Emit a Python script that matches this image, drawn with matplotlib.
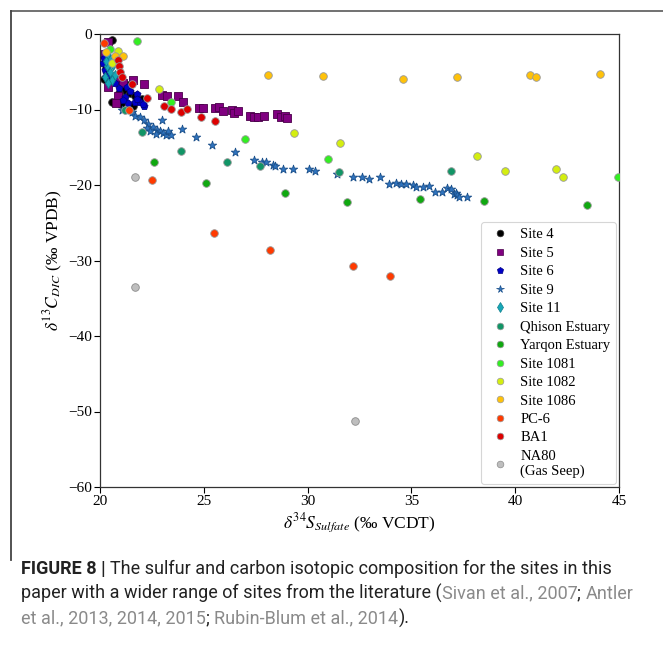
import matplotlib
matplotlib.use("Agg")
import matplotlib.pyplot as plt
from matplotlib import font_manager
from matplotlib.lines import Line2D
from matplotlib.offsetbox import TextArea, HPacker, AnnotationBbox

# ---------------- data ----------------
site4_x = [20.56, 20.3, 20.2, 21.35, 21.17, 21.45, 21.0, 20.6, 21.7, 20.9, 22.0, 21.6]
site4_y = [-0.8, -4.5, -6.0, -6.75, -7.4, -7.8, -9.3, -9.0, -8.2, -7.8, -8.6, -9.6]

site5_x = [20.4, 20.24, 21.6, 22.13, 20.85, 20.4, 20.76, 20.88, 21.12, 22.97, 23.24, 23.74, 24.0,
           24.78, 24.97, 25.54, 25.74, 25.94, 26.34, 26.45, 26.66, 27.23, 27.43, 27.63, 27.9,
           28.51, 28.7, 28.91, 28.99]
site5_y = [-1.0, -2.6, -6.1, -6.6, -8.2, -7.0, -9.2, -6.1, -6.5, -8.08, -8.17, -8.2, -8.96,
           -9.85, -9.76, -9.85, -9.62, -10.15, -10.07, -10.42, -10.2, -10.86, -11.0, -10.95, -10.8,
           -10.64, -10.95, -10.82, -11.17]

site6_x = [20.16, 20.24, 21.28, 21.45, 21.76, 21.69, 21.93, 22.13, 21.36, 21.2, 20.72, 20.4,
           20.2, 20.3, 20.9, 21.1, 21.8, 22.05, 20.6]
site6_y = [-3.9, -4.8, -7.0, -7.6, -7.9, -9.0, -9.0, -9.6, -9.2, -8.3, -6.5, -5.2,
           -3.2, -5.6, -7.2, -8.8, -8.6, -9.3, -5.9]

site9_x = [21.04, 21.53, 21.69, 21.93, 22.13, 22.33, 22.25, 22.57, 22.41, 22.73, 22.89, 22.68,
           23.05, 23.16, 23.29, 23.42, 22.97, 23.93, 24.62, 25.41, 26.5, 27.43, 27.79, 27.99,
           28.32, 28.43, 28.8, 29.28, 30.08, 30.36, 31.4, 32.17, 32.6, 32.96, 33.49, 33.92,
           34.24, 34.48, 34.72, 35.09, 35.22, 35.54, 35.86, 36.14, 36.46, 36.73, 36.89, 37.05,
           37.15, 37.21, 37.3, 37.66]
site9_y = [-10.07, -10.3, -10.86, -11.0, -11.4, -11.9, -12.5, -12.3, -12.9, -12.7, -12.9, -13.2,
           -13.15, -13.4, -12.9, -13.4, -11.4, -12.6, -13.6, -14.66, -15.6, -16.7, -17.0, -16.9,
           -17.35, -17.5, -17.85, -17.84, -17.92, -18.1, -18.54, -18.9, -18.98, -19.2, -18.9, -19.9,
           -19.78, -19.9, -19.87, -20.04, -20.3, -20.3, -20.13, -20.97, -20.97, -20.44, -20.57, -21.23,
           -21.0, -21.3, -21.6, -21.55]

site11_x = [20.4, 20.48, 20.32, 20.48, 20.24, 20.56, 20.4, 20.64, 20.3, 20.7]
site11_y = [-2.8, -3.4, -4.3, -5.0, -5.65, -6.1, -6.5, -4.1, -3.6, -5.4]

qhison_x = [22.0, 23.9, 26.1, 27.7, 31.51, 36.89, 21.2]
qhison_y = [-13.0, -15.5, -17.0, -17.5, -18.28, -18.1, -10.0]

yarqon_x = [22.61, 25.1, 28.9, 31.9, 35.4, 38.48, 43.47]
yarqon_y = [-17.0, -19.8, -21.1, -22.3, -21.8, -22.1, -22.6]

s1081_x = [21.8, 23.42, 27.0, 31.0, 44.94, 20.5]
s1081_y = [-0.93, -8.96, -13.95, -16.5, -19.0, -2.0]

s1082_x = [22.84, 20.88, 20.56, 29.33, 31.56, 38.15, 39.49, 41.97, 42.29]
s1082_y = [-7.24, -2.2, -3.8, -13.07, -14.48, -16.2, -18.1, -17.9, -19.0]

s1086_x = [28.07, 30.73, 34.58, 37.21, 40.71, 40.98, 44.08, 20.29, 20.72, 21.1]
s1086_y = [-5.43, -5.56, -5.9, -5.65, -5.47, -5.74, -5.3, -2.34, -2.87, -2.9]

pc6_x = [22.52, 25.5, 28.2, 32.19, 33.98, 20.2, 21.4]
pc6_y = [-19.4, -26.4, -28.6, -30.7, -32.05, -1.2, -10.0]

ba1_x = [23.1, 23.42, 23.9, 24.17, 24.85, 25.52, 20.88, 20.92, 20.96, 21.04, 21.56, 22.25]
ba1_y = [-9.5, -9.93, -10.3, -9.98, -11.0, -11.5, -3.44, -4.2, -5.0, -5.7, -6.6, -8.5]

na80_x = [21.7, 21.7, 32.3]
na80_y = [-19.0, -33.47, -51.3]

labels = ["Site 4", "Site 5", "Site 6", "Site 9", "Site 11", "Qhison Estuary",
          "Yarqon Estuary", "Site 1081", "Site 1082", "Site 1086", "PC-6", "BA1",
          "NA80\n(Gas Seep)"]

# ---------------- style ----------------
plt.rcParams["font.family"] = ["Liberation Serif", "DejaVu Serif"]
plt.rcParams["mathtext.fontset"] = "stix"

W, H = 663, 647
fig = plt.figure(figsize=(W / 100, H / 100), dpi=100)
ax = fig.add_axes([100 / W, 1 - 487 / H, 519 / W, 453 / H])

series = [
    (site4_x, site4_y, "o", "#000000", "#333333", 30),
    (site5_x, site5_y, "s", "#800080", "#4a004a", 40),
    (site6_x, site6_y, "p", "#0000C8", "#000080", 28),
    (site9_x, site9_y, "*", "#2F74C0", "#1a4f8a", 40),
    (site11_x, site11_y, "d", "#17A8B8", "#0e7f8c", 26),
    (qhison_x, qhison_y, "o", "#119566", "#999999", 30),
    (yarqon_x, yarqon_y, "o", "#10A810", "#999999", 30),
    (s1081_x, s1081_y, "o", "#33EE22", "#999999", 30),
    (s1082_x, s1082_y, "o", "#D4EE10", "#999999", 30),
    (s1086_x, s1086_y, "o", "#FFC20A", "#999999", 30),
    (pc6_x, pc6_y, "o", "#FF3A00", "#999999", 30),
    (ba1_x, ba1_y, "o", "#DD0000", "#999999", 30),
    (na80_x, na80_y, "o", "#BEBEBE", "#8c8c8c", 30),
]

handles = []
for (xs, ys, m, c, ec, s), lab in zip(series, labels):
    ax.scatter(xs, ys, marker=m, s=s, c=c, edgecolors=ec, linewidths=0.6, zorder=3)
    handles.append(Line2D([], [], linestyle="none", marker=m, markersize=4.8 if m != "*" else 5.5,
                          markerfacecolor=c, markeredgecolor=ec, markeredgewidth=0.5, label=lab))

ax.set_xlim(20, 45)
ax.set_ylim(-60, 0)
ax.set_xticks([20, 25, 30, 35, 40, 45])
ax.set_yticks([-60, -50, -40, -30, -20, -10, 0])
ax.set_yticklabels(["\u221260", "\u221250", "\u221240", "\u221230", "\u221220", "\u221210", "0"])
ax.tick_params(labelsize=11, length=4, width=0.8, pad=2)
for sp in ax.spines.values():
    sp.set_linewidth(0.9)
    sp.set_color("#333333")

ax.set_xlabel(r"$\delta^{34}S_{Sulfate}$ (‰ VCDT)", fontsize=12.5, labelpad=2)
ax.set_ylabel(r"$\delta^{13}C_{DIC}$ (‰ VPDB)", fontsize=12.5, labelpad=2)

leg = ax.legend(handles=handles, loc="lower right", fontsize=10.5, frameon=True,
                borderaxespad=0.2, labelspacing=0.36, handletextpad=0.45,
                handlelength=1.8, borderpad=0.4)
leg.get_frame().set_edgecolor("#cccccc")
leg.get_frame().set_linewidth(0.8)

# ---------------- figure frame ----------------
fig.add_artist(Line2D([11 / W, 1.0], [1 - 11 / H, 1 - 11 / H], color="#666666", lw=1.3))
fig.add_artist(Line2D([11 / W, 11 / W], [1 - 11 / H, 1 - 560 / H], color="#444444", lw=1.3))

# ---------------- caption ----------------
avail = {f.name for f in font_manager.fontManager.ttflist}
cap_font = ["Liberation Sans Narrow"] if "Liberation Sans Narrow" in avail else ["Roboto", "DejaVu Sans"]
cap_size = 14.2 if cap_font[0] == "Liberation Sans Narrow" else 13.0

GREY = "#8a8a8a"
TXT = "#222222"
lines = [
    [("FIGURE 8 | ", TXT, "bold"), ("The sulfur and carbon isotopic composition for the sites in this", TXT, "normal")],
    [("paper with a wider range of sites from the literature (", TXT, "normal"),
     ("Sivan et al., 2007", GREY, "normal"), ("; ", TXT, "normal"), ("Antler", GREY, "normal")],
    [("et al., 2013, 2014, 2015", GREY, "normal"), ("; ", TXT, "normal"),
     ("Rubin-Blum et al., 2014", GREY, "normal"), (").", TXT, "normal")],
]
ys_px = [578, 603, 628]  # bottom of each caption line (pixels from top)
for parts, ypx in zip(lines, ys_px):
    areas = [TextArea(txt, textprops=dict(color=col, fontweight=wt, fontsize=cap_size, family=cap_font))
             for txt, col, wt in parts]
    pack = HPacker(children=areas, align="baseline", pad=0, sep=0)
    ab = AnnotationBbox(pack, (21, H - ypx), xycoords="figure pixels", box_alignment=(0, 0),
                        frameon=False, pad=0, annotation_clip=False)
    fig.add_artist(ab)

fig.savefig("out.png", dpi=100)
